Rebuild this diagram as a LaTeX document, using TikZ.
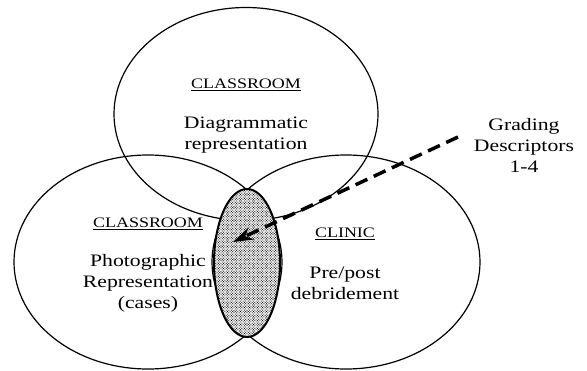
\documentclass[tikz,border=0pt]{standalone}
\usepackage{fontspec}
\setmainfont{Liberation Serif}[FakeStretch=1.24]
\usepackage{tikz}
\usetikzlibrary{arrows.meta,shapes.geometric,patterns}

% dense stipple for the overlap
\pgfdeclarepatternformonly{stipple}{\pgfqpoint{-1pt}{-1pt}}{\pgfqpoint{2.6pt}{2.6pt}}{\pgfqpoint{2.6pt}{2.6pt}}{
  \pgfpathcircle{\pgfqpoint{0pt}{0pt}}{0.58pt}
  \pgfpathcircle{\pgfqpoint{1.3pt}{1.3pt}}{0.58pt}
  \pgfusepath{fill}}

\begin{document}
\begin{tikzpicture}[x=1pt,y=-1pt,
  setring/.style={ellipse,draw,line width=1.2pt,minimum width=268pt,minimum height=214pt,inner sep=0pt},
  setlabel/.style={align=center,font=\fontsize{17.5}{21}\selectfont},
  sethead/.style={font=\fontsize{14.5}{17}\selectfont}]
\useasboundingbox (0,0) rectangle (587,370);

% the three settings
\node[setring] (photo) at (148,262) {};
\node[setring] (clinic) at (346,262) {};
\node[setring,minimum width=264pt,minimum height=213pt] (diagram) at (246,114) {};

% overlap of the three
\node[ellipse,draw,line width=2pt,minimum width=66pt,minimum height=148pt,inner sep=0pt,
  preaction={fill=white},pattern=stipple] (core) at (247,263) {};

\node[sethead] (diaghead) at (246,85) {\underline{CLASSROOM}};
\node[setlabel] (diagtext) at (246,135) {Diagrammatic\\representation};

\node[sethead] (photohead) at (148,224) {\underline{CLASSROOM}};
\node[setlabel] (phototext) at (148,283) {Photographic\\Representation\\(cases)};

\node[sethead] (clinichead) at (345,234) {\underline{CLINIC}};
\node[setlabel] (clinictext) at (345,283) {Pre/post\\debridement};

\node[setlabel] (grading) at (524,145) {Grading\\Descriptors\\1-4};

%\draw (grading.west) -- (core);
\coordinate (gradestart) at (458,137);
\coordinate (gradetip) at (233,242);
\draw[line width=3.5pt,dash pattern=on 13pt off 7pt,-{Stealth[length=20pt,width=13pt]}] (gradestart) -- (gradetip);
\end{tikzpicture}
\end{document}
